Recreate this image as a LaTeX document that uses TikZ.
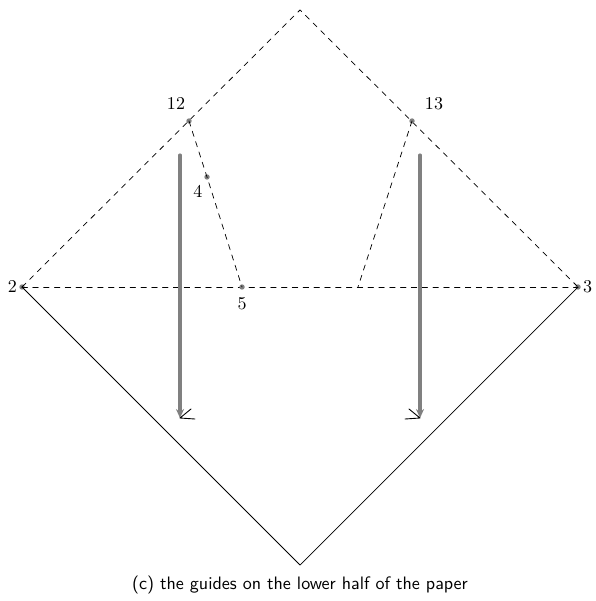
\documentclass[tikz,border=0pt]{standalone}
\usetikzlibrary{arrows.meta}
\begin{document}
\begin{tikzpicture}[x=0.0195cm, y=-0.0195cm, line join=round, line cap=round, >=stealth,
	crease/.style={dashed, line width=.4pt},
	guide/.style={gray, line width=1.7pt, -{Stealth[length=5pt,width=4.5pt]}},
	dot/.style={circle, fill=gray, inner sep=0pt, minimum size=3pt}]
	\useasboundingbox (0,0) rectangle (595,601);
	% corners of the paper
	\coordinate (T) at (300,10);
	\coordinate (B) at (300,565);
	\node[dot] (p2) at (22,287) {};
	\node[dot] (p3) at (578,287) {};
	\node[left, inner sep=1pt] (l2) at (p2.west) {$2$};
	\node[right, inner sep=1pt] (l3) at (p3.east) {$3$};
	\draw[crease] (p2.center) -- (T) -- (p3.center);
	\draw[crease] (p2.center) -- (p3.center);
	\draw (p2.center) -- (B) -- (p3.center);
	% guide lines
	\node[dot] (p12) at (189,121) {};
	\node[dot] (p4) at (207,177) {};
	\node[dot] (p5) at (242,287) {};
	\node[dot] (p13) at (412,121) {};
	\coordinate (q5) at (358,287);
	\draw[crease] (p12.center) -- (p4.center) -- (p5.center);
	\draw[crease] (p13.center) -- (q5);
	\node (l12) at (176,104) {$12$};
	\node (l13) at (434,104) {$13$};
	\node (l4) at (198,192) {$4$};
	\node (l5) at (242,304) {$5$};
	% arrows
	\coordinate (a1) at (180,155); \coordinate (a1e) at (180,418);
	\coordinate (a2) at (420,155); \coordinate (a2e) at (420,418);
	\draw[guide] (a1) -- (a1e);
	\draw[guide] (a2) -- (a2e);
	\draw[line width=.5pt] (a1e) -- +(11,-9) (a1e) -- +(15,1);
	\draw[line width=.5pt] (a2e) -- +(-11,-9) (a2e) -- +(-15,1);
	%\draw[color=gray!50] (0,0) grid[step=50] (595,601);
	\node[font=\sffamily] (cap) at (300,585) {(c) the guides on the lower half of the paper};
\end{tikzpicture}
\end{document}
